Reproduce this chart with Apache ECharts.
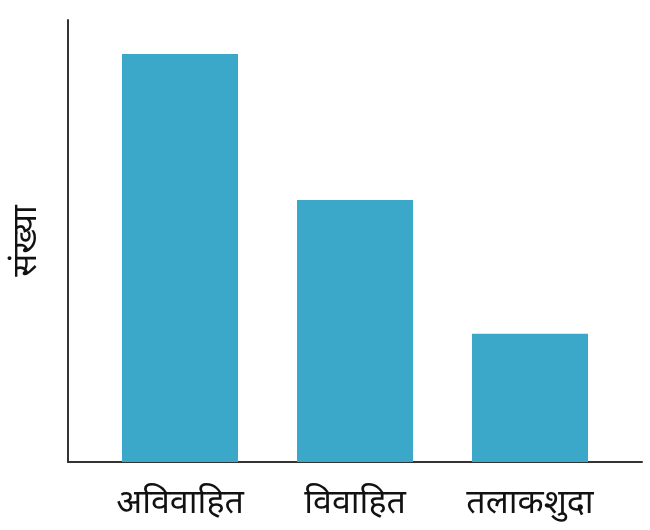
<!DOCTYPE html>
<html>
<head>
<meta charset="utf-8">
<script src="https://cdn.jsdelivr.net/npm/echarts@6/dist/echarts.min.js"></script>
<style>
  html, body { margin: 0; padding: 0; background: #fff; }
  #chart { width: 650px; height: 530px; }
</style>
</head>
<body>
<div id="chart"></div>
<script>
var categories = ['अविवाहित', 'विवाहित', 'तलाकशुदा'];
var counts = [92.3, 59.3, 29.0];
var axisMax = 100;
var axisName = 'संख्या';

var barColor = '#3ba8c9';
var lineColor = '#333333';
var font = "'Noto Sans', 'Noto Sans Devanagari', sans-serif";

var chart = echarts.init(document.getElementById('chart'));

chart.setOption({
    backgroundColor: '#ffffff',
    animation: false,
    grid: [
        // frame: only the two axis lines
        { left: 68, right: 8, top: 20, bottom: 68, outerBoundsMode: 'none', containLabel: false },
        // bars
        { left: 92.5, width: 525, top: 20, bottom: 68, outerBoundsMode: 'none', containLabel: false }
    ],
    xAxis: [
        {
            gridIndex: 0, type: 'value', min: 0, max: 1,
            axisLine: { show: true, onZero: false, lineStyle: { color: lineColor, width: 2 } },
            axisTick: { show: false }, axisLabel: { show: false }, splitLine: { show: false }
        },
        {
            gridIndex: 1, type: 'category', data: categories,
            axisLine: { show: false }, axisTick: { show: false },
            axisLabel: { margin: 24, color: '#111', fontSize: 34, fontFamily: font }
        }
    ],
    yAxis: [
        {
            gridIndex: 0, type: 'value', min: 0, max: axisMax,
            name: axisName, nameLocation: 'middle', nameRotate: 90, nameGap: 25,
            nameTextStyle: { color: '#111', fontSize: 34, fontFamily: font },
            axisLine: { show: true, onZero: false, lineStyle: { color: lineColor, width: 2 } },
            axisTick: { show: false }, axisLabel: { show: false }, splitLine: { show: false }
        },
        {
            gridIndex: 1, type: 'value', min: 0, max: axisMax, show: false
        }
    ],
    series: [{
        type: 'bar',
        xAxisIndex: 1,
        yAxisIndex: 1,
        data: counts,
        barWidth: 116,
        itemStyle: { color: barColor }
    }]
});
</script>
</body>
</html>
